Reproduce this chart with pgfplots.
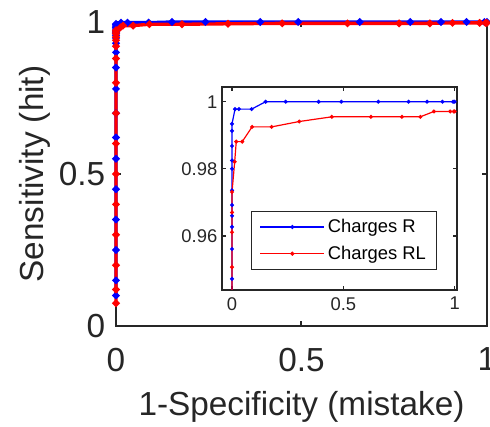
\documentclass[border=0pt]{standalone}
\usepackage{pgfplots}
\pgfplotsset{compat=1.18}
\usepackage{fontspec}
\setmainfont{Liberation Sans}
\definecolor{axgray}{RGB}{38,38,38}
\pgfplotstableread{
x y
0 0.10
0 0.15
0 0.25
0 0.35
0 0.45
0 0.55
0 0.62
0 0.70
0 0.78
0 0.85
0 0.90
0 0.93
0 0.9472
0 0.9561
0 0.9627
0 0.9660
0 0.9692
0 0.9736
0 0.9800
0 0.9825
0 0.9868
0 0.9913
0 0.9934
0.0135 0.9978
0.031 0.9978
0.088 0.9978
0.151 1
0.241 1
0.389 1
0.491 1
0.657 1
0.793 1
0.876 1
0.945 1
0.993 1
1 1
}\chargesR
\pgfplotstableread{
x y
0 0.075
0 0.12
0 0.20
0 0.30
0 0.40
0 0.50
0 0.60
0 0.70
0 0.80
0 0.88
0 0.92
0 0.94
0 0.9507
0 0.9611
0 0.9670
0 0.9731
0.012 0.9821
0.019 0.9881
0.046 0.9881
0.090 0.9925
0.178 0.9925
0.302 0.9941
0.448 0.9955
0.624 0.9955
0.763 0.9955
0.846 0.9955
0.907 0.9971
0.980 0.9971
0.996 0.9971
1 0.9971
}\chargesRL
\begin{document}
\begin{tikzpicture}
\useasboundingbox (-87pt,-75.75pt) rectangle (280.5pt,244.5pt);
\begin{axis}[
  at={(0,0)}, anchor=south west,
  scale only axis, width=278.25pt, height=228pt,
  xmin=0, xmax=1, ymin=0, ymax=1,
  xtick={0,0.5,1}, ytick={0,0.5,1},
  tick align=inside, major tick length=4pt,
  axis line style={axgray, line width=2.2pt},
  every tick/.style={axgray, line width=1.5pt},
  tick label style={font=\fontsize{25}{30}\selectfont, text=axgray},
  xticklabel style={yshift=-13pt},
  yticklabel style={xshift=-4.5pt},
  label style={font=\fontsize{25}{30}\selectfont, text=axgray},
  /pgf/number format/assume math mode=true,
  xlabel={1-Specificity (mistake)},
  ylabel={Sensitivity (hit)},
  xlabel style={at={(axis description cs:0.5,-0.266)}, anchor=center},
  ylabel style={at={(axis description cs:-0.218,0.5)}, anchor=center},
  clip=false,
]
\addplot[blue, line width=2.5pt, mark=*, mark size=1.3pt] table {\chargesR};
\addplot[red, line width=2.5pt, mark=*, mark size=1.3pt] table {\chargesRL};
\end{axis}
\begin{axis}[
  at={(79.5pt,27pt)}, anchor=south west,
  scale only axis, width=176pt, height=152pt,
  xmin=-0.045, xmax=1.009, ymin=0.9439, ymax=1.0043,
  xtick={0,0.5,1}, ytick={0.96,0.98,1},
  tick align=inside, major tick length=3pt,
  axis background/.style={fill=white},
  axis line style={axgray, line width=1.6pt},
  every tick/.style={axgray, line width=1pt},
  tick label style={font=\fontsize{13.8}{16}\selectfont, text=axgray},
  xticklabel style={yshift=-2pt},
  /pgf/number format/assume math mode=true,
  /pgf/number format/fixed,
  legend style={at={(0.123,0.0985)}, anchor=south west, draw=axgray, line width=1pt,
    font=\fontsize{13.8}{16}\selectfont, fill=white, row sep=4.5pt,
    inner xsep=6pt, inner ysep=4pt},
  legend cell align=left,
  legend image code/.code={\draw[#1, line width=1.2pt] (0pt,0pt) -- (48pt,0pt); \fill[#1] (24pt,0pt) circle (1.1pt);},
]
\addplot[blue, line width=0.9pt, mark=*, mark size=1pt] table {\chargesR};
\addplot[red, line width=0.9pt, mark=*, mark size=1pt] table {\chargesRL};
\legend{Charges R, Charges RL}
\end{axis}
\end{tikzpicture}
\end{document}
